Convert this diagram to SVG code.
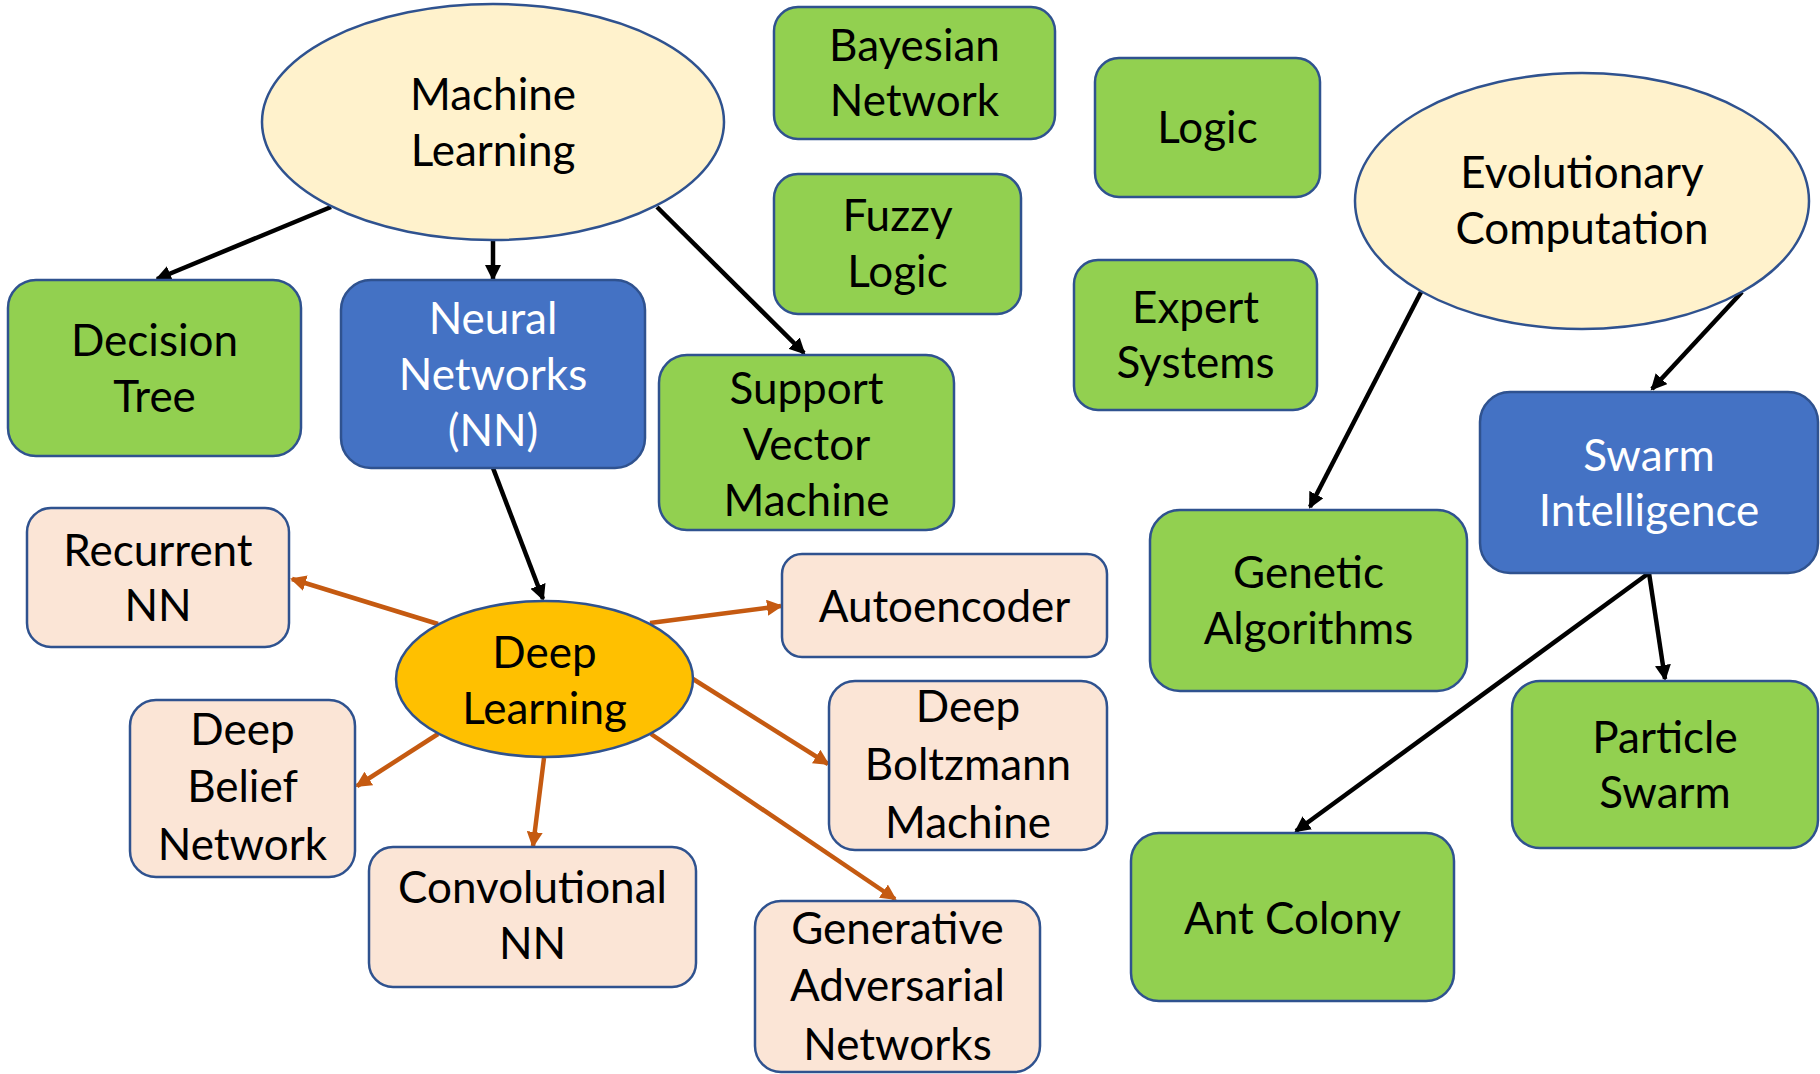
<svg xmlns="http://www.w3.org/2000/svg" width="1820" height="1074" viewBox="0 0 1820 1074">
  <defs>
    <style>
      .ell { stroke: #2F528F; stroke-width: 2.5; }
      .box { stroke: #2F528F; stroke-width: 2.5; }
      .green { fill: #92D050; }
      .blue { fill: #4472C4; }
      .peach { fill: #FBE5D6; }
      .cream { fill: #FFF2CC; }
      .gold { fill: #FFC000; }
      text { font-family: Lato, "Open Sans", "Liberation Sans", sans-serif; font-size: 44px; text-anchor: middle; fill: #000000; }
      text.light { fill: #FFFFFF; }
      .black { stroke: #000000; stroke-width: 4.5; fill: none; }
      .orange { stroke: #C55A11; stroke-width: 4.5; fill: none; }
    </style>
    <marker id="headBlack" markerUnits="userSpaceOnUse" markerWidth="18" markerHeight="16" refX="14" refY="8" orient="auto">
      <path d="M0,0 L16,8 L0,16 z" fill="#000000"/>
    </marker>
    <marker id="headOrange" markerUnits="userSpaceOnUse" markerWidth="18" markerHeight="16" refX="14" refY="8" orient="auto">
      <path d="M0,0 L16,8 L0,16 z" fill="#C55A11"/>
    </marker>
  </defs>

  <rect width="1820" height="1074" fill="#FFFFFF"/>

  <!-- connectors -->
  <g id="connectors">
    <line class="black" x1="331" y1="207" x2="157" y2="279" marker-end="url(#headBlack)"/>
    <line class="black" x1="493" y1="240" x2="493" y2="279" marker-end="url(#headBlack)"/>
    <line class="black" x1="657" y1="207" x2="804" y2="353" marker-end="url(#headBlack)"/>
    <line class="black" x1="493" y1="468" x2="543" y2="599" marker-end="url(#headBlack)"/>
    <line class="black" x1="1421" y1="292" x2="1310" y2="507" marker-end="url(#headBlack)"/>
    <line class="black" x1="1742" y1="292" x2="1652" y2="389" marker-end="url(#headBlack)"/>
    <line class="black" x1="1649" y1="573" x2="1665" y2="679" marker-end="url(#headBlack)"/>
    <line class="black" x1="1649" y1="573" x2="1296" y2="831" marker-end="url(#headBlack)"/>

    <line class="orange" x1="438" y1="624" x2="292" y2="579" marker-end="url(#headOrange)"/>
    <line class="orange" x1="650" y1="623" x2="781" y2="606" marker-end="url(#headOrange)"/>
    <line class="orange" x1="693" y1="679" x2="828" y2="764" marker-end="url(#headOrange)"/>
    <line class="orange" x1="651" y1="734" x2="895" y2="899" marker-end="url(#headOrange)"/>
    <line class="orange" x1="544" y1="758" x2="533" y2="846" marker-end="url(#headOrange)"/>
    <line class="orange" x1="438" y1="734" x2="357" y2="786" marker-end="url(#headOrange)"/>
  </g>

  <!-- hub ellipses -->
  <g id="machine-learning">
    <ellipse class="ell cream" cx="493" cy="122" rx="231" ry="118"/>
    <text x="493" y="110">Machine</text>
    <text x="493" y="166">Learning</text>
  </g>
  <g id="evolutionary-computation">
    <ellipse class="ell cream" cx="1582" cy="201" rx="227" ry="128"/>
    <text x="1582" y="188">Evolutionary</text>
    <text x="1582" y="244">Computation</text>
  </g>
  <g id="deep-learning">
    <ellipse class="ell gold" cx="544.5" cy="679" rx="148.5" ry="78"/>
    <text x="544.5" y="668">Deep</text>
    <text x="544.5" y="724">Learning</text>
  </g>

  <!-- machine learning branch -->
  <g id="decision-tree">
    <rect class="box green" x="8" y="280" width="293" height="176" rx="28"/>
    <text x="154.5" y="356">Decision</text>
    <text x="154.5" y="412">Tree</text>
  </g>
  <g id="neural-networks">
    <rect class="box blue" x="341" y="280" width="304" height="188" rx="30"/>
    <text class="light" x="493" y="334">Neural</text>
    <text class="light" x="493" y="390">Networks</text>
    <text class="light" x="493" y="446">(NN)</text>
  </g>
  <g id="support-vector-machine">
    <rect class="box green" x="659" y="355" width="295" height="175" rx="28"/>
    <text x="806.5" y="404">Support</text>
    <text x="806.5" y="460">Vector</text>
    <text x="806.5" y="516">Machine</text>
  </g>

  <!-- standalone methods -->
  <g id="bayesian-network">
    <rect class="box green" x="774" y="7" width="281" height="132" rx="24"/>
    <text x="914.5" y="61">Bayesian</text>
    <text x="914.5" y="116">Network</text>
  </g>
  <g id="fuzzy-logic">
    <rect class="box green" x="774" y="174" width="247" height="140" rx="24"/>
    <text x="897.5" y="231">Fuzzy</text>
    <text x="897.5" y="287">Logic</text>
  </g>
  <g id="logic">
    <rect class="box green" x="1095" y="58" width="225" height="139" rx="24"/>
    <text x="1207.5" y="143">Logic</text>
  </g>
  <g id="expert-systems">
    <rect class="box green" x="1074" y="260" width="243" height="150" rx="24"/>
    <text x="1195.5" y="323">Expert</text>
    <text x="1195.5" y="378">Systems</text>
  </g>

  <!-- evolutionary branch -->
  <g id="genetic-algorithms">
    <rect class="box green" x="1150" y="510" width="317" height="181" rx="30"/>
    <text x="1308.5" y="588">Genetic</text>
    <text x="1308.5" y="644">Algorithms</text>
  </g>
  <g id="swarm-intelligence">
    <rect class="box blue" x="1480" y="392" width="338" height="181" rx="30"/>
    <text class="light" x="1649" y="471">Swarm</text>
    <text class="light" x="1649" y="526">Intelligence</text>
  </g>
  <g id="particle-swarm">
    <rect class="box green" x="1512" y="681" width="306" height="167" rx="28"/>
    <text x="1665" y="753">Particle</text>
    <text x="1665" y="808">Swarm</text>
  </g>
  <g id="ant-colony">
    <rect class="box green" x="1131" y="833" width="323" height="168" rx="28"/>
    <text x="1292.5" y="934">Ant Colony</text>
  </g>

  <!-- deep learning family -->
  <g id="recurrent-nn">
    <rect class="box peach" x="27" y="508" width="262" height="139" rx="24"/>
    <text x="158" y="566">Recurrent</text>
    <text x="158" y="621">NN</text>
  </g>
  <g id="autoencoder">
    <rect class="box peach" x="782" y="554" width="325" height="103" rx="20"/>
    <text x="944.5" y="622">Autoencoder</text>
  </g>
  <g id="deep-belief-network">
    <rect class="box peach" x="130" y="700" width="225" height="177" rx="26"/>
    <text x="242.5" y="745">Deep</text>
    <text x="242.5" y="802">Belief</text>
    <text x="242.5" y="860">Network</text>
  </g>
  <g id="convolutional-nn">
    <rect class="box peach" x="369" y="847" width="327" height="140" rx="24"/>
    <text x="532.5" y="903">Convolutional</text>
    <text x="532.5" y="959">NN</text>
  </g>
  <g id="deep-boltzmann-machine">
    <rect class="box peach" x="829" y="681" width="278" height="169" rx="26"/>
    <text x="968" y="722">Deep</text>
    <text x="968" y="780">Boltzmann</text>
    <text x="968" y="838">Machine</text>
  </g>
  <g id="generative-adversarial-networks">
    <rect class="box peach" x="755" y="901" width="285" height="171" rx="26"/>
    <text x="897.5" y="944">Generative</text>
    <text x="897.5" y="1001">Adversarial</text>
    <text x="897.5" y="1060">Networks</text>
  </g>
</svg>
